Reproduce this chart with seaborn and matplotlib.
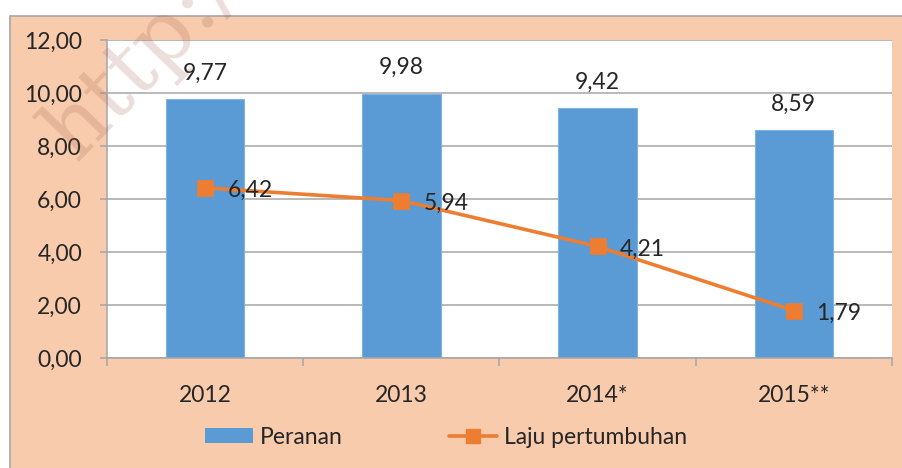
import seaborn as sns
import matplotlib.pyplot as plt
import pandas as pd
import numpy as np
from matplotlib.patches import Rectangle, Patch
from matplotlib.lines import Line2D
from matplotlib.ticker import FuncFormatter, FixedLocator

# data
tahun = ['2012', '2013', '2014*', '2015**']
peranan = [9.77, 9.98, 9.42, 8.59]
laju = [6.42, 5.94, 4.21, 1.79]

df = pd.DataFrame({'tahun': tahun, 'peranan': peranan, 'laju': laju})

sns.set_style('white')
plt.rcParams['font.family'] = ['Lato', 'DejaVu Sans']

blue = '#5B9BD5'
orange = '#ED7D31'
peach = '#F8CBAD'
W, H = 903, 468
fs = 16.5

fig = plt.figure(figsize=(W / 100, H / 100), dpi=100)
fig.patch.set_facecolor('white')
bg = Rectangle((10 / W, -0.01), 1, (H - 16) / H + 0.01,
               transform=fig.transFigure, facecolor=peach,
               edgecolor='#A6A6A6', lw=1.2, zorder=-5)
fig.patches.append(bg)

ax = fig.add_axes([107 / W, (H - 358) / H, (892 - 107) / W, (358 - 40) / H])
ax.set_facecolor('white')

# bars
sns.barplot(data=df, x='tahun', y='peranan', color=blue, width=0.4,
            saturation=1, edgecolor='#7FB2E0', linewidth=0.8, ax=ax, zorder=2)

# line
sns.pointplot(data=df, x='tahun', y='laju', color=orange, markers='s',
              markersize=10.5, linewidth=2.6, ax=ax, zorder=3)

for i, v in enumerate(peranan):
    ax.annotate(f'{v:.2f}'.replace('.', ','), (i, v), xytext=(0, 11),
                textcoords='offset points', ha='center', va='bottom', fontsize=fs)
for i, v in enumerate(laju):
    ax.annotate(f'{v:.2f}'.replace('.', ','), (i, v), xytext=(16, -2),
                textcoords='offset points', ha='left', va='center', fontsize=fs)

ax.set_ylim(0, 12)
ax.set_xlim(-0.5, len(tahun) - 0.5)
ax.set_yticks(np.arange(0, 12.1, 2))
ax.yaxis.set_major_formatter(FuncFormatter(lambda v, p: f'{v:.2f}'.replace('.', ',')))
ax.grid(axis='y', color='#A6A6A6', lw=1.1, zorder=0)
ax.set_axisbelow(True)
ax.set_xlabel('')
ax.set_ylabel('')

for s in ['top', 'right']:
    ax.spines[s].set_visible(False)
for s in ['left', 'bottom']:
    ax.spines[s].set_color('#A6A6A6')
    ax.spines[s].set_linewidth(1.1)

ax.tick_params(axis='y', which='major', left=True, length=5, width=1.1,
               color='#A6A6A6', pad=13, labelsize=fs)
ax.tick_params(axis='x', which='major', bottom=False, pad=16, labelsize=fs)
ax.xaxis.set_minor_locator(FixedLocator(np.arange(-0.5, len(tahun), 1)))
ax.tick_params(axis='x', which='minor', bottom=True, length=6, width=1.1,
               color='#A6A6A6')

handles = [Patch(facecolor=blue, edgecolor='none'),
           Line2D([], [], color=orange, lw=2.6, marker='s', markersize=10.5)]
fig.legend(handles, ['Peranan', 'Laju pertumbuhan'], loc='center',
           bbox_to_anchor=(446 / W, 1 - 437 / H), ncol=2, frameon=False,
           fontsize=fs, handlelength=2.1, handleheight=0.65, handletextpad=0.3,
           columnspacing=4.6)

# faint watermark
wm = fig.text(76 / W, 1 - 162 / H, 'http://www.bps.go.id', rotation=46,
              fontsize=62, family='DejaVu Serif', color='#9A5A48', alpha=0.2,
              ha='left', va='baseline', rotation_mode='anchor')
wm.set_zorder(50)

fig.savefig('out.png', dpi=100, facecolor='white')
